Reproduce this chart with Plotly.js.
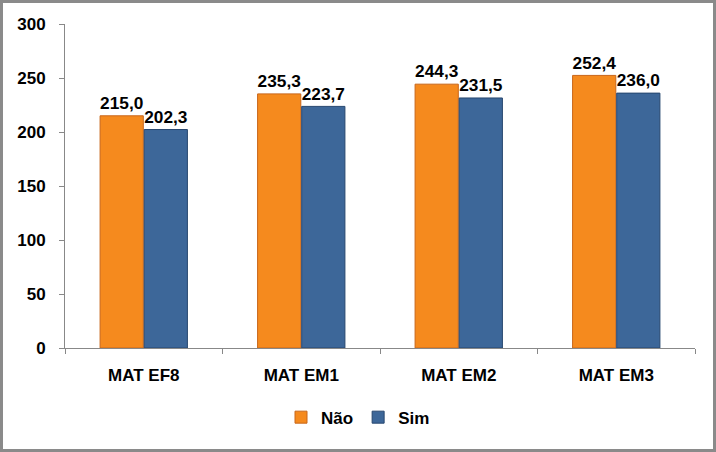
<!DOCTYPE html>
<html><head><meta charset="utf-8">
<script src="https://cdn.plot.ly/plotly-3.0.1.min.js"></script>
<style>html,body{margin:0;padding:0;background:#fff}#c{width:716px;height:452px;box-sizing:border-box;border:3px solid #8a8a8a}</style>
</head><body><div id="c"></div>
<script>
const categories = ["MAT EF8", "MAT EM1", "MAT EM2", "MAT EM3"];
const nao = [215.0, 235.3, 244.3, 252.4];
const sim = [202.3, 223.7, 231.5, 236.0];
const seriesNames = ["Não", "Sim"];
const fmt = v => v.toFixed(1).replace(".", ",");
const font = "Liberation Sans, Arial, sans-serif";
const data = [
  {type:"bar", name:seriesNames[0], x:categories, y:nao, text:nao.map(fmt), textposition:"outside",
   textfont:{family:font, size:18, color:"#000", weight:"bold"}, cliponaxis:false,
   marker:{color:"#F58A1E", line:{color:"#C8661A", width:1}}},
  {type:"bar", name:seriesNames[1], x:categories, y:sim, text:sim.map(fmt), textposition:"outside",
   textfont:{family:font, size:18, color:"#000", weight:"bold"}, cliponaxis:false,
   marker:{color:"#3D6799", line:{color:"#27476F", width:1}}}
];
const layout = {
  width:710, height:446,
  margin:{l:62, r:18, t:21, b:101, autoexpand:false},
  paper_bgcolor:"#fff", plot_bgcolor:"#fff",
  barmode:"group", bargap:0.44, bargroupgap:0.02,
  font:{family:font, color:"#000"},
  showlegend:true,
  legend:{orientation:"h", x:0.5, xanchor:"center", xref:"container", y:0.03, yanchor:"bottom", yref:"container",
    font:{family:font, size:17, weight:"bold"}, itemwidth:30, traceorder:"normal"},
  xaxis:{showline:true, linecolor:"#888", linewidth:1, ticks:"outside", tickson:"boundaries",
    ticklen:5, tickcolor:"#888", tickfont:{family:font, size:17, weight:"bold"}, showgrid:false,
    ticklabelstandoff:12},
  yaxis:{range:[0,300], dtick:50, showline:true, linecolor:"#888", linewidth:1, ticks:"outside",
    ticklen:5, tickcolor:"#888", tickfont:{family:font, size:17, weight:"bold"}, showgrid:false,
    zeroline:false, ticklabelstandoff:10}
};
Plotly.newPlot("c", data, layout, {displayModeBar:false, staticPlot:true});
</script></body></html>
